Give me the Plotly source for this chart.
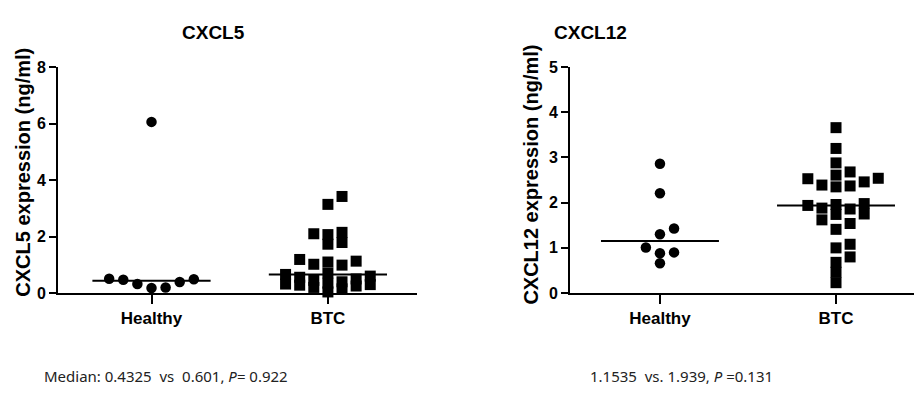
import numpy as np
import plotly.graph_objects as go

# ---------------- data ----------------
categories = ["Healthy", "BTC"]

cxcl5_healthy = [0.49, 0.475, 0.32, 0.18, 0.20, 0.39, 0.51, 6.06]
cxcl5_btc = [3.42, 3.14, 2.15, 2.10, 2.07, 1.79, 1.73, 1.19, 1.13, 1.10, 1.02, 0.99,
             0.71, 0.66, 0.601, 0.56, 0.50, 0.45, 0.40, 0.35, 0.32, 0.30, 0.28, 0.25,
             0.20, 0.15, 0.04]

cxcl12_healthy = [2.86, 2.21, 1.43, 1.30, 1.007, 0.90, 0.88, 0.66]
cxcl12_btc = [3.66, 3.20, 2.88, 2.68, 2.61, 2.54, 2.53, 2.46, 2.39, 2.37, 2.35, 1.98,
              1.96, 1.939, 1.88, 1.86, 1.75, 1.74, 1.62, 1.54, 1.41, 1.08, 1.00, 0.80,
              0.68, 0.46, 0.23]

panel_titles = ["CXCL5", "CXCL12"]
y_titles = ["CXCL5 expression (ng/ml)", "CXCL12 expression (ng/ml)"]
y_ranges = [[0, 8], [0, 5]]
y_dticks = [2, 1]
stat_texts = ["Median: 0.4325  vs  0.601, <i>P</i>= 0.922",
              "1.1535  vs. 1.939, <i>P</i> =0.131"]

# ---------------- layout constants ----------------
W, H = 914, 401
PLOT_TOP, PLOT_BOT = 61.7, 297.7
X_DOMAINS = [[58 / W, 417 / W], [570 / W, 1.0]]
X_RANGES = [[-0.53, 1.505], [-0.511, 1.443]]
Y_DOMAIN = [(H - PLOT_BOT) / H, (H - PLOT_TOP) / H]
SLOT = 0.08          # horizontal slot width (category units)
COLLIDE_PX = 10.0    # vertical separation needed in one slot
HALF_MED = 0.335     # half-width of the median line

FONT = "Liberation Sans, Arial, sans-serif"


def swarm(values, ymax):
    """Simple beeswarm: give each point a horizontal slot offset."""
    px_per_unit = (PLOT_BOT - PLOT_TOP) / ymax
    order = np.argsort(values)
    slots_order = [0, 1, -1, 2, -2, 3, -3]
    placed = {s: [] for s in slots_order}
    offs = np.zeros(len(values))
    for i in order:
        v = values[i]
        best, best_d = None, -1
        for s in slots_order:
            d = min([abs(v - u) * px_per_unit for u in placed[s]], default=1e9)
            if d >= COLLIDE_PX:
                best = s
                break
            if d > best_d:
                best, best_d = s, d
        placed[best].append(v)
        offs[i] = best * SLOT
    return offs


fig = go.Figure()

panels = [(cxcl5_healthy, cxcl5_btc), (cxcl12_healthy, cxcl12_btc)]
for p, (healthy, btc) in enumerate(panels):
    xa = "x" if p == 0 else "x2"
    ya = "y" if p == 0 else "y2"
    ymax = y_ranges[p][1]
    for c, (vals, sym, size) in enumerate([(healthy, "circle", 10.5), (btc, "square", 11)]):
        vals = np.array(vals, dtype=float)
        xs = c + swarm(vals, ymax)
        fig.add_trace(go.Scatter(
            x=xs, y=vals, mode="markers", xaxis=xa, yaxis=ya,
            marker=dict(symbol=sym, size=size, color="black", line=dict(width=0)),
            cliponaxis=False, hoverinfo="skip"))
        med = float(np.median(vals))
        fig.add_trace(go.Scatter(
            x=[c - HALF_MED, c + HALF_MED], y=[med, med], mode="lines",
            xaxis=xa, yaxis=ya, line=dict(color="black", width=2),
            cliponaxis=False, hoverinfo="skip"))

axis_common = dict(showgrid=False, zeroline=False, showline=True, linecolor="black",
                   linewidth=2, ticks="outside", tickcolor="black", tickwidth=2,
                   fixedrange=True)

for p in range(2):
    sx = "" if p == 0 else "2"
    fig.layout["xaxis" + sx] = dict(
        axis_common, domain=X_DOMAINS[p], range=X_RANGES[p], anchor="y" + sx,
        tickvals=[0, 1], ticktext=categories, ticklen=9,
        tickfont=dict(family=FONT, size=17, color="black", weight="bold"))
    fig.layout["yaxis" + sx] = dict(
        axis_common, domain=Y_DOMAIN, range=y_ranges[p], anchor="x" + sx,
        dtick=y_dticks[p], ticklen=7,
        tickfont=dict(family=FONT, size=16, color="black", weight="bold"))

annotations = []
title_x = [213, 590]
ytitle_x = [23, 531]
ytitle_y = [172, 174]
stat_x = [42, 588]
for p in range(2):
    annotations.append(dict(
        text=panel_titles[p], x=title_x[p] / W, y=1 - 26 / H, xref="paper", yref="paper",
        xanchor="center", yanchor="middle", showarrow=False,
        font=dict(family=FONT, size=19, color="black", weight="bold")))
    annotations.append(dict(
        text=y_titles[p], x=ytitle_x[p] / W, y=1 - ytitle_y[p] / H,
        xref="paper", yref="paper", xanchor="center", yanchor="middle",
        textangle=-90, showarrow=False,
        font=dict(family=FONT, size=20, color="black", weight="bold")))
    annotations.append(dict(
        text=stat_texts[p], x=stat_x[p] / W, y=1 - 384 / H, xref="paper", yref="paper",
        xanchor="left", yanchor="middle", showarrow=False,
        font=dict(family="Noto Sans, sans-serif", size=15, color="#222222")))

fig.update_layout(
    width=W, height=H, margin=dict(l=0, r=0, t=0, b=0),
    paper_bgcolor="white", plot_bgcolor="white", showlegend=False,
    annotations=annotations)

fig.write_html("out.html", config={"displayModeBar": False},
               post_script="document.body.style.margin='0';document.body.style.overflow='hidden';")
